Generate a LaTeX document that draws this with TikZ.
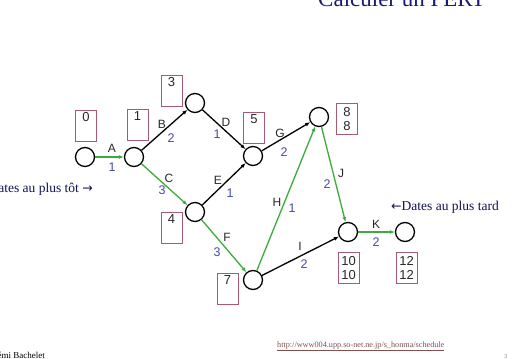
\documentclass[tikz,border=0pt]{standalone}
\usepackage{fontspec}
\setmainfont{Liberation Serif}
\newfontfamily\lblfont{Liberation Sans}
\newfontfamily\arrfont{DejaVu Sans}
\usetikzlibrary{arrows.meta}
\definecolor{pgreen}{RGB}{60,170,60}
\definecolor{pbox}{RGB}{170,90,110}
\definecolor{pblue}{RGB}{70,70,180}
\definecolor{ptitle}{RGB}{25,25,120}
\definecolor{purl}{RGB}{130,80,80}
\definecolor{plbl}{RGB}{40,40,40}
\tikzset{
  evt/.style={circle,draw=black,line width=1.3pt,minimum size=19pt,inner sep=0pt},
  datebox/.style={draw=pbox,line width=1pt,minimum width=21pt,minimum height=31pt,inner xsep=1pt,inner ysep=1.5pt,align=center,font=\lblfont\fontsize{13}{14.5}\selectfont,text=plbl,anchor=north},
  task/.style={line width=1.3pt,-{Latex[length=5pt,width=4pt]}},
  crit/.style={task,draw=pgreen},
  norm/.style={task,draw=black},
  letter/.style={font=\lblfont\fontsize{12}{12}\selectfont,text=plbl,inner sep=0pt},
  dur/.style={font=\lblfont\fontsize{12.5}{12.5}\selectfont,text=pblue,inner sep=0pt}
}
\begin{document}
\begin{tikzpicture}[x=1pt,y=-1pt]
\useasboundingbox (0,0) rectangle (512,359);
\clip (0,0) rectangle (512,359);
\fill[white] (0,0) rectangle (512,359);
% title
\node[font=\fontsize{23}{23}\selectfont,text=ptitle,anchor=base west,inner sep=0pt] (title) at (318,6) {Calculer un PERT};
% events
\node[evt] (n0) at (85,157) {};
\node[evt] (n1) at (134,157) {};
\node[evt] (n3) at (195,103) {};
\node[evt] (n5) at (253,156) {};
\node[evt] (n4) at (195,212) {};
\node[evt] (n7) at (253,280) {};
\node[evt] (n8) at (319,117) {};
\node[evt] (n10) at (348,232) {};
\node[evt] (n12) at (405,232) {};
% date boxes
\node[datebox] (b0) at (86,110) {0\\\strut};
\node[datebox] (b1) at (137.5,109) {1\\\strut};
\node[datebox] (b3) at (171.5,75) {3\\\strut};
\node[datebox] (b5) at (254,112) {5\\\strut};
\node[datebox] (b8) at (347,103) {8\\8};
\node[datebox] (b4) at (171.5,212) {4\\\strut};
\node[datebox] (b7) at (227.5,273) {7\\\strut};
\node[datebox] (b10) at (348.5,252) {10\\10};
\node[datebox] (b12) at (406.5,252) {12\\12};
% tasks
\draw[crit] (n0) -- (n1);
\draw[norm] (n1) -- (n3);
\draw[crit] (n1) -- (n4);
\draw[norm] (n3) -- (n5);
\draw[norm] (n4) -- (n5);
\draw[crit] (n4) -- (n7);
\draw[norm] (n5) -- (n8);
\draw[crit] (n7) -- (n8);
\draw[norm] (n7) -- (n10);
\draw[crit] (n8) -- (n10);
\draw[crit] (n10) -- (n12);
% labels
\node[letter] (lA) at (112,148) {A};  \node[dur] (dA) at (112,167) {1};
\node[letter] (lB) at (162,124) {B};  \node[dur] (dB) at (171,138) {2};
\node[letter] (lC) at (169,178) {C};  \node[dur] (dC) at (162,190) {3};
\node[letter] (lD) at (226,122) {D};  \node[dur] (dD) at (217,134) {1};
\node[letter] (lE) at (218,180) {E};  \node[dur] (dE) at (230,193) {1};
\node[letter] (lF) at (227,237) {F};  \node[dur] (dF) at (217,252) {3};
\node[letter] (lG) at (280,133) {G};  \node[dur] (dG) at (284,152) {2};
\node[letter] (lH) at (277,202) {H};  \node[dur] (dH) at (292,208) {1};
\node[letter] (lI) at (300,246) {I};  \node[dur] (dI) at (304,264) {2};
\node[letter] (lJ) at (341,173) {J};  \node[dur] (dJ) at (327,184) {2};
\node[letter] (lK) at (376,224) {K};  \node[dur] (dK) at (376,242) {2};
% side texts
\node[font=\fontsize{13.5}{13.5}\selectfont,text=ptitle!70!black,anchor=east,inner sep=0pt] (tot) at (93,189) {Dates au plus tôt {\arrfont\fontsize{12.5}{12.5}\selectfont →}};
\node[font=\fontsize{13.5}{13.5}\selectfont,text=ptitle!70!black,anchor=west,inner sep=0pt] (tard) at (391,207) {{\arrfont\fontsize{12.5}{12.5}\selectfont ←}Dates au plus tard};
% footer
\node[font=\fontsize{8.2}{8.2}\selectfont,text=purl,anchor=base west,inner sep=0pt] (url) at (277,347) {\underline{http://www004.upp.so-net.ne.jp/s\_honma/schedule}};
\node[font=\fontsize{9}{9}\selectfont,anchor=base east,inner sep=0pt] (auth) at (45,358) {Rémi Bachelet};
\node[font=\fontsize{6}{6}\selectfont,text=gray,anchor=base west,inner sep=0pt] (pg) at (504,358) {3};
\end{tikzpicture}
\end{document}
